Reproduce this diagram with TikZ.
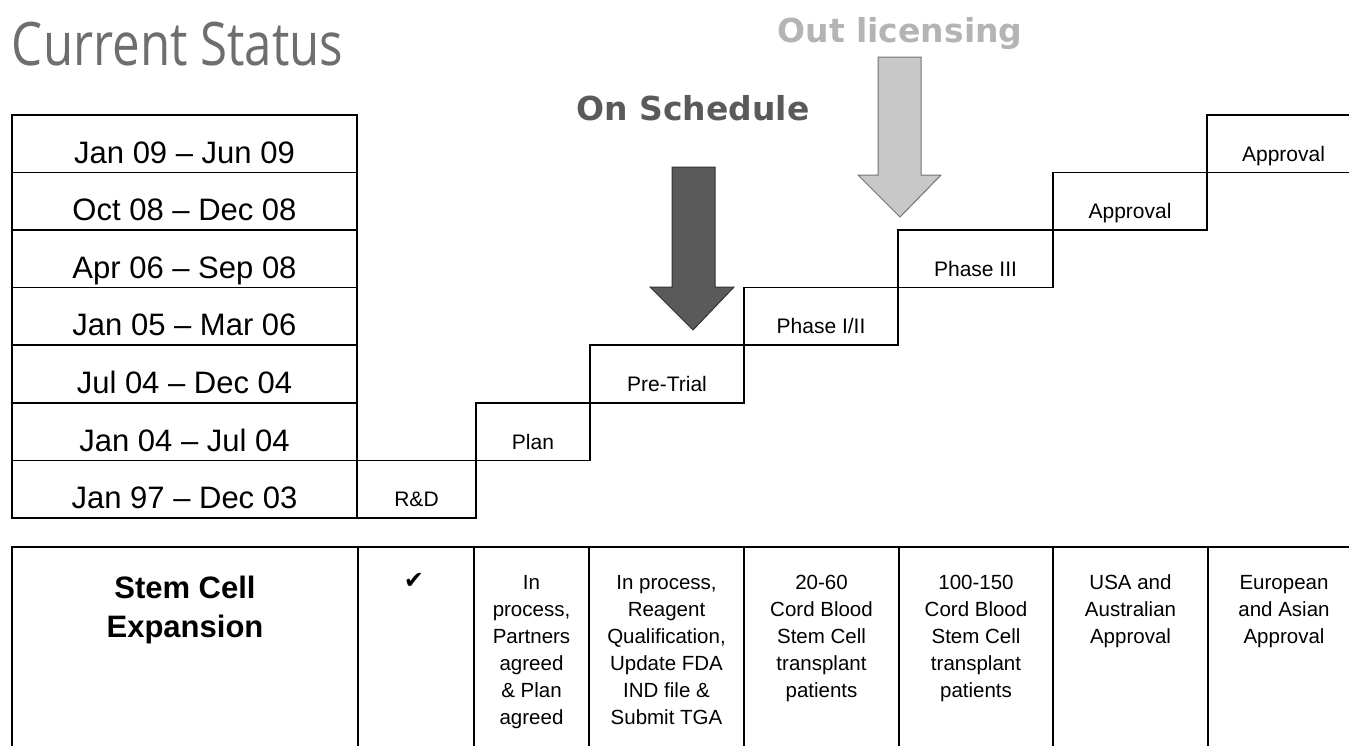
\documentclass[tikz,border=0pt]{standalone}
\usepackage{fontspec}
\setmainfont{Liberation Sans}
\newfontfamily\headfont{DejaVu Sans}
\newfontfamily\titlefont{Open Sans}
\newfontfamily\symfont{DejaVu Sans}
\usepackage{graphicx}
\usepackage{xcolor}
\usetikzlibrary{positioning}

\definecolor{arrowdark}{HTML}{5A5A5A}
\definecolor{arrowlight}{HTML}{C8C8C8}
\definecolor{textlight}{HTML}{B4B4B4}
\definecolor{titlegray}{HTML}{6E6E6E}

\begin{document}
\begin{tikzpicture}[
  x = 1pt, y = -1pt,
  every node/.style = {inner sep = 0pt, outer sep = 0pt},
  datecell/.style = {draw, line width = 1.6pt, minimum width = 345pt, minimum height = 57.6pt,
    text height = 39pt, text depth = 0pt, font = \fontsize{31}{36}\selectfont},
  stepcell/.style = {draw, line width = 1.6pt, minimum width = #1, minimum height = 57.6pt,
    text height = 35pt, text depth = 0pt, font = \fontsize{21}{25}\selectfont},
  infocell/.style = {draw, line width = 1.6pt, minimum width = #1, minimum height = 220pt},
  infotext/.style = {align = center, font = \fontsize{20.5}{27}\selectfont},
  bigarrow/.style = {line width = 1pt, line join = miter}
]
\useasboundingbox (0,0) rectangle (1349,745);
\clip (0,0) rectangle (1349,745);

% title
\node[anchor = base west, text = titlegray, font = \titlefont\fontsize{60}{66}\selectfont] (title) at (12,65)
  {\scalebox{0.82}[1]{Current Status}};

% time periods
\node[datecell] (d1) at (184.5,489.2) {Jan 97 – Dec 03};
\node[datecell, above = 0pt of d1] (d2) {Jan 04 – Jul 04};
\node[datecell, above = 0pt of d2] (d3) {Jul 04 – Dec 04};
\node[datecell, above = 0pt of d3] (d4) {Jan 05 – Mar 06};
\node[datecell, above = 0pt of d4] (d5) {Apr 06 – Sep 08};
\node[datecell, above = 0pt of d5] (d6) {Oct 08 – Dec 08};
\node[datecell, above = 0pt of d6] (d7) {Jan 09 – Jun 09};

% stages
\node[stepcell = 119pt] (rd) at (416.5,489.2) {R\&D};
\node[stepcell = 114pt, above right = 0pt and 0pt of rd] (plan) {Plan};
\node[stepcell = 154pt, above right = 0pt and 0pt of plan] (pretrial) {Pre-Trial};
\node[stepcell = 154pt, above right = 0pt and 0pt of pretrial] (phase12) {Phase I/II};
\node[stepcell = 155pt, above right = 0pt and 0pt of phase12] (phase3) {Phase III};
\node[stepcell = 154pt, above right = 0pt and 0pt of phase3] (appr1) {Approval};
\node[stepcell = 153pt, above right = 0pt and 0pt of appr1] (appr2) {Approval};

% arrows
\draw[bigarrow, fill = arrowdark, draw = black!80]
  (672,167) -- (715,167) -- (715,287) -- (734,287) -- (693,330) -- (650,287) -- (672,287) -- cycle;
\node[anchor = base, text = arrowdark, font = \headfont\bfseries\fontsize{33}{38}\selectfont] (onsched) at (693,120) {On Schedule};

\draw[bigarrow, fill = arrowlight, draw = black!55]
  (878,57) -- (921,57) -- (921,175) -- (941,175) -- (900,217) -- (858,175) -- (878,175) -- cycle;
\node[anchor = base, text = textlight, font = \headfont\bfseries\fontsize{33}{38}\selectfont] (outlic) at (900,42) {Out licensing};

% status table
\node[infocell = 346pt, anchor = north west] (c1) at (12,547) {};
\node[infocell = 116pt, right = 0pt of c1] (c2) {};
\node[infocell = 115pt, right = 0pt of c2] (c3) {};
\node[infocell = 155pt, right = 0pt of c3] (c4) {};
\node[infocell = 155pt, right = 0pt of c4] (c5) {};
\node[infocell = 154pt, right = 0pt of c5] (c6) {};
\node[infocell = 155pt, right = 0pt of c6] (c7) {};
\node[infocell = 152pt, right = 0pt of c7] (c8) {};

\node[infotext, font = \fontsize{31}{39}\selectfont\bfseries, below = 29pt of c1.north] (t1) {Stem Cell\\Expansion};
\node[font = \symfont\fontsize{24}{26}\selectfont, below = 26pt of c2.north, xshift = -2pt] (t2) {✔};
\node[infotext, below = 28pt of c3.north] (t3) {In\\process,\\Partners\\agreed\\\& Plan\\agreed};
\node[infotext, below = 28pt of c4.north] (t4) {In process,\\Reagent\\Qualification,\\Update FDA\\IND file \&\\Submit TGA};
\node[infotext, below = 28pt of c5.north] (t5) {20-60\\Cord Blood\\Stem Cell\\transplant\\patients};
\node[infotext, below = 28pt of c6.north] (t6) {100-150\\Cord Blood\\Stem Cell\\transplant\\patients};
\node[infotext, below = 28pt of c7.north] (t7) {USA and\\Australian\\Approval};
\node[infotext, below = 28pt of c8.north] (t8) {European\\and Asian\\Approval};
\end{tikzpicture}
\end{document}
